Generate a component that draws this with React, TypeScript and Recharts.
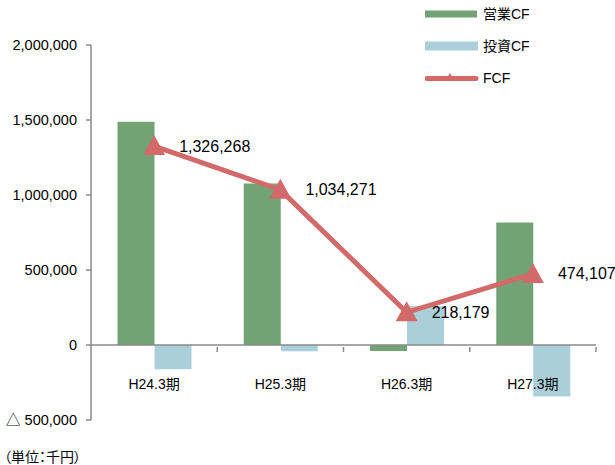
import React from 'react';
import {
  ComposedChart,
  Bar,
  Line,
  XAxis,
  YAxis,
  ReferenceLine,
  LabelList,
} from 'recharts';

const periods = ['H24.3期', 'H25.3期', 'H26.3期', 'H27.3期'];
const operatingCF = [1488000, 1076000, -40000, 817000];
const investingCF = [-161732, -41729, 258179, -342893];
const freeCF = [1326268, 1034271, 218179, 474107];
const yTicks = [-500000, 0, 500000, 1000000, 1500000, 2000000];

const GREEN = '#71A375';
const BLUE = '#AACFD8';
const RED = '#D26A6A';
const AXIS = '#8A8A8A';
const FONT = "'Liberation Sans', 'Noto Sans CJK JP', sans-serif";

const data = periods.map((name, i) => ({
  name,
  op: operatingCF[i],
  inv: investingCF[i],
  fcf: freeCF[i],
}));

const fmt = (v: number) =>
  v < 0 ? `△ ${Math.abs(v).toLocaleString('en-US')}` : v.toLocaleString('en-US');

// x軸ラベルはゼロ線の下に描く
const XTick = (props: any) => {
  const { x, y, payload } = props;
  const half = payload && payload.offset ? payload.offset : 63;
  return (
    <g>
      <line x1={x + half} x2={x + half} y1={y - 81} y2={y - 76} stroke={AXIS} strokeWidth={1.5} />
      <text
        x={x}
        y={y - 44}
        textAnchor="middle"
        dominantBaseline="central"
        fontSize={14}
        fontFamily={FONT}
        fill="#000"
      >
        {payload.value}
      </text>
    </g>
  );
};

const Triangle = (props: any) => {
  const { cx, cy } = props;
  if (cx == null || cy == null) return null;
  return <path d={`M${cx},${cy - 11} L${cx + 11},${cy + 9} L${cx - 11},${cy + 9} Z`} fill={RED} />;
};

const FcfLabel = (props: any) => {
  const { x, y, value } = props;
  return (
    <text
      x={x + 25}
      y={y}
      dominantBaseline="central"
      fontSize={16}
      fontFamily={FONT}
      fill="#000"
    >
      {Number(value).toLocaleString('en-US')}
    </text>
  );
};

const LegendBox = () => {
  const row = (y: number, label: string, swatch: React.ReactNode) => (
    <div style={{ position: 'absolute', left: 0, top: y - 10, height: 20, width: 160 }}>
      <svg width={60} height={20} style={{ position: 'absolute', left: 0, top: 0 }}>
        {swatch}
      </svg>
      <span
        style={{
          position: 'absolute',
          left: 58,
          top: 0,
          lineHeight: '20px',
          fontSize: 14,
          fontFamily: FONT,
          color: '#000',
          whiteSpace: 'nowrap',
        }}
      >
        {label}
      </span>
    </div>
  );
  return (
    <div style={{ position: 'absolute', left: 425, top: 0, width: 170, height: 100 }}>
      {row(14, '営業CF', <rect x={0} y={6.5} width={52} height={7} fill={GREEN} />)}
      {row(46, '投資CF', <rect x={0} y={5.5} width={53} height={9} fill={BLUE} />)}
      {row(
        78,
        'FCF',
        <g>
          <line x1={2} x2={51} y1={10.5} y2={10.5} stroke={RED} strokeWidth={5} strokeLinecap="round" />
          <path d="M25,5 L30,13 L20,13 Z" fill={RED} />
        </g>
      )}
    </div>
  );
};

export default function App() {
  return (
    <div style={{ position: 'absolute', left: 0, top: 0, width: 615, height: 465, background: '#fff' }}>
      <ComposedChart
        width={615}
        height={465}
        data={data}
        margin={{ top: 45, right: 19, left: 0, bottom: 15 }}
        barCategoryGap="21%"
        barGap={0}
      >
        <YAxis
          width={91}
          domain={[-500000, 2000000]}
          ticks={yTicks}
          interval={0}
          tickFormatter={fmt}
          axisLine={{ stroke: AXIS, strokeWidth: 1.5 }}
          tickLine={{ stroke: AXIS, strokeWidth: 1.5 }}
          tickSize={5}
          tickMargin={9}
          tick={{ fontSize: 14.5, fill: '#000', fontFamily: FONT }}
        />
        <Bar dataKey="op" name="営業CF" fill={GREEN} isAnimationActive={false} />
        <Bar dataKey="inv" name="投資CF" fill={BLUE} isAnimationActive={false} />
        <ReferenceLine y={0} stroke={AXIS} strokeWidth={1.5} />
        <XAxis
          dataKey="name"
          height={30}
          axisLine={false}
          tickLine={false}
          interval={0}
          tick={<XTick />}
        />
        <Line
          dataKey="fcf"
          name="FCF"
          stroke={RED}
          strokeWidth={5}
          dot={<Triangle />}
          activeDot={false}
          isAnimationActive={false}
        >
          <LabelList dataKey="fcf" content={<FcfLabel />} />
        </Line>
      </ComposedChart>
      <LegendBox />
      <div
        style={{
          position: 'absolute',
          left: 4,
          top: 446,
          fontSize: 14,
          fontFamily: "'Noto Sans CJK JP', sans-serif",
          fontFeatureSettings: '"palt"',
          lineHeight: '20px',
          color: '#000',
          whiteSpace: 'nowrap',
        }}
      >
        （単位：千円）
      </div>
    </div>
  );
}
